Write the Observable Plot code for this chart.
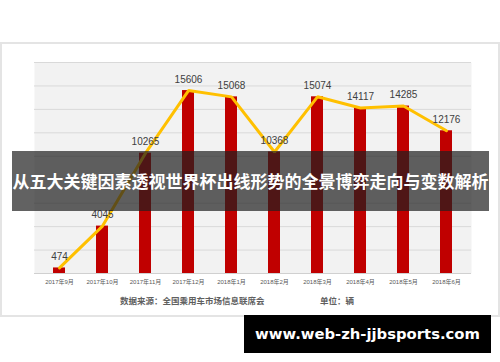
<!DOCTYPE html>
<html>
<head>
<meta charset="utf-8">
<script src="https://cdn.jsdelivr.net/npm/d3@7"></script>
<script src="https://cdn.jsdelivr.net/npm/@observablehq/plot@0.6"></script>
<style>
  html, body { margin: 0; padding: 0; background: #fff; }
  #wrap { position: relative; width: 500px; height: 362px; overflow: hidden; }
  #frame { position: absolute; left: 0; top: 42px; width: 500px; height: 275px; box-sizing: border-box; border: 2px solid #e4e4e4; background: #fff; }
  #chart { position: absolute; left: 0; top: 0; }
  #source { position: absolute; left: 120px; top: 294px; font: 600 8.5px "Noto Sans CJK SC", sans-serif; color: #606060; white-space: nowrap; line-height: 12px; }
  #unit { position: absolute; left: 320px; top: 294px; font: 600 8.5px "Noto Sans CJK SC", sans-serif; color: #606060; white-space: nowrap; line-height: 12px; }
  #banner { position: absolute; left: 12px; top: 151px; width: 477px; height: 60px; background: rgba(32,32,32,0.7); color: #fff; font: 700 17px "Noto Sans CJK SC", sans-serif; line-height: 60px; text-align: center; white-space: nowrap; }
  #site { position: absolute; left: 244px; top: 315px; width: 247px; height: 38px; background: #000; color: #fff; font: 700 14.8px "DejaVu Sans", sans-serif; line-height: 38px; text-align: center; white-space: nowrap; }
</style>
</head>
<body>
<div id="wrap">
  <div id="frame"></div>
  <div id="chart"></div>
  <div id="source">数据来源：全国乘用车市场信息联席会</div>
  <div id="unit">单位：辆</div>
  <div id="banner">从五大关键因素透视世界杯出线形势的全景博弈走向与变数解析</div>
  <div id="site">www.web-zh-jjbsports.com</div>
</div>
<script>
const months = ["2017年9月","2017年10月","2017年11月","2017年12月","2018年1月","2018年2月","2018年3月","2018年4月","2018年5月","2018年6月"];
const sales = [474, 4045, 10265, 15606, 15068, 10368, 15074, 14117, 14285, 12176];
const yTicks = [0, 2000, 4000, 6000, 8000, 10000, 12000, 14000, 16000, 18000];

const data = months.map((m, i) => ({month: m, value: sales[i]}));

const chart = Plot.plot({
  width: 500,
  height: 362,
  marginLeft: 34,
  marginRight: 29,
  marginTop: 62,
  marginBottom: 89,
  style: {background: "transparent", fontFamily: "'Liberation Sans', 'Noto Sans CJK SC', sans-serif"},
  x: {domain: months, paddingInner: 0.72, paddingOuter: 0.36, label: null},
  y: {domain: [0, 18000], axis: null},
  marks: [
    Plot.frame({fill: "#f2f2f2", stroke: null}),
    Plot.gridY(yTicks, {stroke: "#d9d9d9", strokeOpacity: 1, strokeWidth: 1}),
    Plot.ruleY([0], {stroke: "#d0d0d0", strokeWidth: 1}),
    Plot.axisX({tickSize: 0, tickPadding: 6, fontSize: 6, fill: "#595959", fontFamily: "'Liberation Sans', 'Noto Sans CJK SC', sans-serif"}),
    Plot.barY(data, {x: "month", y: "value", fill: "#c00000"}),
    Plot.line(data, {x: "month", y: "value", stroke: "#ffc000", strokeWidth: 3, strokeLinejoin: "miter"}),
    Plot.text(data, {x: "month", y: "value", text: d => String(d.value), dy: -11, fontSize: 10, fill: "#404040"})
  ]
});
document.getElementById("chart").appendChild(chart);
</script>
</body>
</html>
